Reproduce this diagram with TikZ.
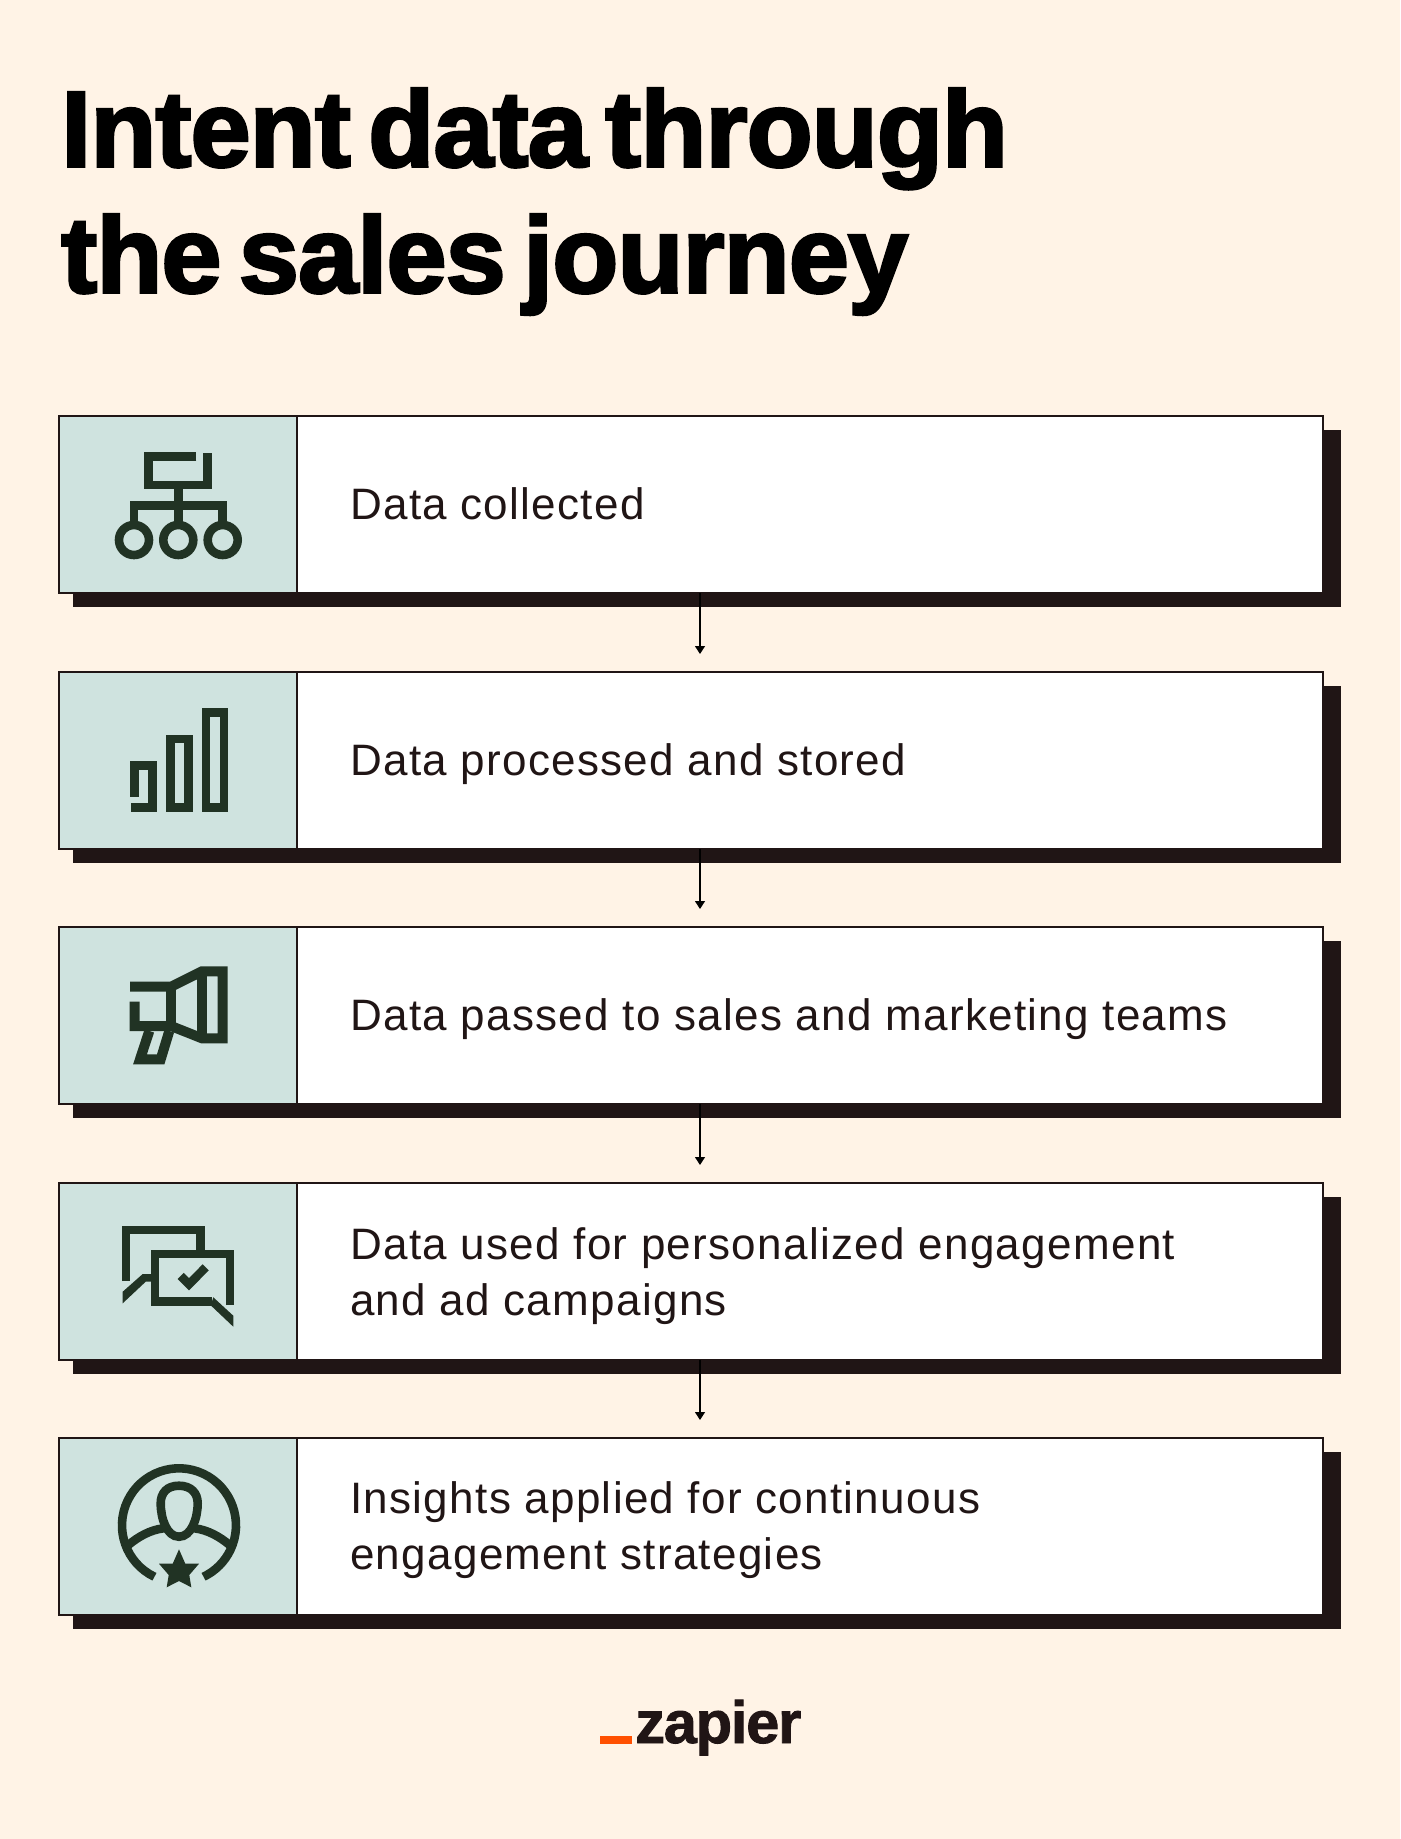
\documentclass[tikz,border=0pt]{standalone}
\usepackage{fontspec}
\setmainfont{Liberation Sans}[LetterSpace=3]
\newfontfamily\headfont{Liberation Sans}[BoldFeatures={FakeBold=2.6,LetterSpace=-0.8,WordSpace=0.6}]
\newfontfamily\logofont{Liberation Sans}[BoldFeatures={FakeBold=1.5,LetterSpace=-2}]
\usetikzlibrary{positioning, arrows.meta}

\definecolor{paper}{HTML}{FFF3E6}
\definecolor{mint}{HTML}{CFE3DF}
\definecolor{inkdark}{HTML}{201515}
\definecolor{icongreen}{HTML}{213324}
\definecolor{zaporange}{HTML}{FF4F00}

\tikzset{
    shade/.style={draw=none, fill=inkdark, anchor=north west, inner sep=0pt, outer sep=0pt, minimum width=1268pt, minimum height=177pt},
    card/.style={draw=inkdark, line width=1.2pt, fill=white, anchor=north west, inner sep=0pt, outer sep=0pt, minimum width=1264pt, minimum height=177pt},
    panel/.style={draw=inkdark, line width=1.2pt, fill=mint, anchor=north west, inner sep=0pt, outer sep=0pt, minimum width=238pt, minimum height=177pt},
    caption/.style={anchor=west, align=left, inner sep=0pt, yshift=-4pt, text=inkdark, font=\fontsize{44}{56}\selectfont, execute at begin node=\strut, execute at end node=\strut},
    flowarrow/.style={draw=black, line width=1.2pt, -{Triangle[length=8pt,width=10pt]}, shorten >=18pt},
    iconline/.style={draw=icongreen, line width=8.6pt, miter limit=10},
}

\begin{document}
\begin{tikzpicture}[x=1pt, y=-1pt]
        \useasboundingbox[fill=paper] (0,0) rectangle (1400,1839);
        \node[anchor=north west, inner sep=0pt, align=left, font=\fontsize{108}{126}\selectfont\headfont\bfseries] (title) at (61,88) {Intent data through\\the sales journey};

        \node[shade] (shade1) at (73,430) {};
        \node[shade] (shade2) at (73,686) {};
        \node[shade] (shade3) at (73,941) {};
        \node[shade] (shade4) at (73,1197) {};
        \node[shade] (shade5) at (73,1452) {};

        \node[card] (card1) at (59,416) {};
        \node[card] (card2) at (59,672) {};
        \node[card] (card3) at (59,927) {};
        \node[card] (card4) at (59,1183) {};
        \node[card] (card5) at (59,1438) {};

        \node[panel] (panel1) at (card1.north west) {};
        \node[panel] (panel2) at (card2.north west) {};
        \node[panel] (panel3) at (card3.north west) {};
        \node[panel] (panel4) at (card4.north west) {};
        \node[panel] (panel5) at (card5.north west) {};

        \draw[flowarrow] ([xshift=9pt]card1.south) -- ([xshift=9pt]card2.north);
        \draw[flowarrow] ([xshift=9pt]card2.south) -- ([xshift=9pt]card3.north);
        \draw[flowarrow] ([xshift=9pt]card3.south) -- ([xshift=9pt]card4.north);
        \draw[flowarrow] ([xshift=9pt]card4.south) -- ([xshift=9pt]card5.north);

        \node[caption, right=53pt of panel1.east] (text1) {Data collected};
        \node[caption, right=53pt of panel2.east] (text2) {Data processed and stored};
        \node[caption, right=53pt of panel3.east] (text3) {Data passed to sales and marketing teams};
        \node[caption, right=53pt of panel4.east, yshift=-4pt] (text4) {Data used for personalized engagement\\and ad campaigns};
        \node[caption, right=53pt of panel5.east, yshift=-3pt] (text5) {Insights applied for continuous\\engagement strategies};

        % icon 1
        \draw[iconline] (196.3,456.7) -- (148.3,456.7) -- (148.3,485) -- (207.3,485) -- (207.3,453);
        \draw[iconline] (178.3,489) -- (178.3,522);
        \draw[iconline] (134,522) -- (134,505.7) -- (222.7,505.7) -- (222.7,522);
        \draw[iconline] (134,540) circle[radius=15];
        \draw[iconline] (178.3,540) circle[radius=15];
        \draw[iconline] (222.7,540) circle[radius=15];

        % icon 2
        \draw[iconline] (134.7,796.7) -- (134.7,765.7) -- (152.7,765.7) -- (152.7,807.3) -- (130.7,807.3);
        \draw[iconline] (170.3,739) rectangle (188.3,807.3);
        \draw[iconline] (206,712.3) rectangle (224,807.3);

        % icon 3
        \draw[iconline, line width=10pt] (130,986.7) -- (171,986.7) -- (202,971.3) -- (222.7,971.3) -- (222.7,1038.3) -- (202,1038.3) -- (171,1026) -- (134.7,1026) -- (134.7,1001.7);
        \draw[iconline, line width=10pt] (171,986.7) -- (171,1026);
        \draw[iconline, line width=10pt] (202,971.3) -- (202,1038.3);
        \draw[iconline, line width=10pt] (149.3,1031) -- (140,1059.3) -- (160.7,1059.3) -- (169.3,1031);

        % icon 4
        \draw[iconline] (126,1281) -- (126,1230) -- (200.7,1230) -- (200.7,1250);
        \fill[icongreen] (122.7,1291.7) -- (142.7,1274) -- (151,1274) -- (151,1281.7) -- (145.7,1281.7) -- (122.7,1303.3) -- cycle;
        \draw[iconline] (230,1305) -- (230,1254) -- (155,1254) -- (155,1301.3) -- (212,1301.3);
        \fill[icongreen] (213.3,1297.3) -- (233.3,1315.7) -- (233.3,1326.7) -- (210.7,1305.3) -- cycle;
        \draw[iconline] (180.7,1276) -- (189,1284.3) -- (205.7,1267.3);

        % icon 5
        \draw[iconline] (179,1525.3) ++(115.5:57) arc[start angle=115.5, end angle=424.5, radius=57];
        \draw[iconline] (179,1485.7) .. controls (166.7,1485.7) and (160.7,1493.3) .. (160.7,1503.3) .. controls (160.7,1518.3) and (166.7,1536.7) .. (179,1536.7) .. controls (191.3,1536.7) and (197.7,1518.3) .. (197.7,1503.3) .. controls (197.7,1493.3) and (191.3,1485.7) .. (179,1485.7) -- cycle;
        \draw[iconline] (128.3,1545) .. controls (138.3,1536.7) and (150,1530) .. (163.3,1528.3);
        \draw[iconline] (229.7,1545) .. controls (219.7,1536.7) and (208,1530) .. (194.7,1528.3);
        \fill[icongreen] (179,1549.3) -- (185.3,1563.7) -- (199,1563.7) -- (189.3,1575) -- (191.3,1587.3) -- (179,1581) -- (166.7,1587.3) -- (168.7,1575) -- (159,1563.7) -- (172.7,1563.7) -- cycle;

        % logo
        \fill[zaporange] (600,1736) rectangle (632,1744);
        \node[anchor=base west, inner sep=0pt, text=inkdark, font=\fontsize{59.5}{60}\selectfont\logofont\bfseries] (logo) at (635,1743) {zapier};
\end{tikzpicture}
\end{document}
